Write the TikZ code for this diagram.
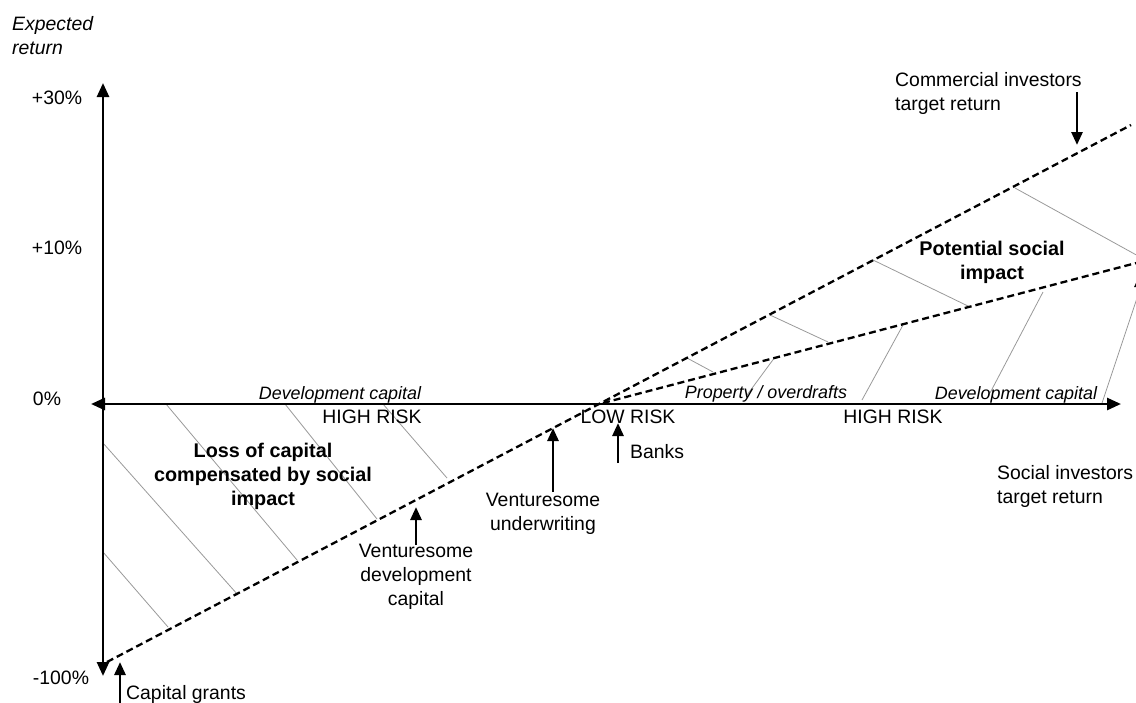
\documentclass[tikz,border=0pt]{standalone}
\usepackage{fontspec}
\setmainfont{Liberation Sans}
\usetikzlibrary{arrows.meta}
\begin{document}
\begin{tikzpicture}[x=1pt,y=-1pt,
    axis/.style={line width=2.7pt,{Triangle[length=14pt,width=12pt]}-{Triangle[length=14pt,width=12pt]}},
    target/.style={line width=2.3pt,dash pattern=on 7pt off 4pt},
    hatch/.style={draw=black!40,line width=0.8pt},
    pointer/.style={line width=2.7pt,-{Triangle[length=13pt,width=11pt]}},
    lbl/.style={inner sep=0pt,align=center,font=\fontsize{19.4}{24}\selectfont},
    sector/.style={inner sep=0pt,font=\fontsize{17.9}{22}\selectfont\itshape},
    effect/.style={inner sep=0pt,align=center,font=\fontsize{19.8}{24}\selectfont\bfseries}]
    \useasboundingbox (0,0) rectangle (1136,702);
    \clip (0,0) rectangle (1136,702);
    \coordinate (ytop) at (103,83);
    \coordinate (ybot) at (103,676);
    \coordinate (xleft) at (91,404);
    \coordinate (xright) at (1121,404);
    \coordinate (lowstart) at (107,662);
    \coordinate (comend) at (1131,125);
    \coordinate (cross) at (603,403);
    \coordinate (socend) at (1140,262);
    \foreach \xa/\ya/\xb/\yb in {103/552/168/627, 103/443/238/595, 166/404/297/560,
        285/404/377/519, 383/404/447/478, 687/358/713/372, 770/315/828/342,
        873/260/970/307, 1015/188/1140/257, 747/395/775/357, 862/400/903/325,
        990/393/1043/292, 1102/403/1140/289}
        \draw[hatch] (\xa,\ya) -- (\xb,\yb);
    \draw[axis] (ybot) -- (ytop);
    \draw[axis] (xleft) -- (xright);
    \draw[target] (lowstart) -- (comend);
    \draw[target] (cross) -- (socend);
    \node[lbl,anchor=west,align=left,font=\fontsize{19.4}{24}\selectfont\itshape] (yname) at (12,36) {Expected\\return};
    \node[lbl] (p30) at (57,98) {+30\%};
    \node[lbl] (p10) at (57,248) {+10\%};
    \node[lbl] (p0) at (47,399) {0\%};
    \node[lbl] (m100) at (61,678) {-100\%};
    \node[sector] (devl) at (340,395) {Development capital};
    \node[lbl] (highl) at (372,417) {HIGH RISK};
    \node[lbl] (low) at (628,417) {LOW RISK};
    \node[sector] (prop) at (766,394) {Property / overdrafts};
    \node[lbl] (highr) at (893,417) {HIGH RISK};
    \node[sector] (devr) at (1016,395) {Development capital};
    \node[effect] (loss) at (263,476) {Loss of capital\\compensated by social\\impact};
    \node[effect] (gain) at (992,262) {Potential social\\impact};
    \coordinate (grantsfoot) at (120,706);
    \coordinate (grantstip) at (120,662);
    \coordinate (vdcfoot) at (416,545);
    \coordinate (vdctip) at (416,507);
    \coordinate (vufoot) at (553,492);
    \coordinate (vutip) at (553,428);
    \coordinate (banksfoot) at (618,463);
    \coordinate (bankstip) at (618,423);
    \coordinate (commfoot) at (1077,92);
    \coordinate (commtip) at (1077,145);
    \coordinate (socfoot) at (1140,345);
    \coordinate (soctip) at (1140,274);
    \draw[pointer] (grantsfoot) -- (grantstip);
    \draw[pointer] (vdcfoot) -- (vdctip);
    \draw[pointer] (vufoot) -- (vutip);
    \draw[pointer] (banksfoot) -- (bankstip);
    \draw[pointer] (commfoot) -- (commtip);
    \draw[pointer] (socfoot) -- (soctip);
    \node[lbl,anchor=west] (grants) at (126,694) {Capital grants};
    \node[lbl] (vdc) at (416,577) {Venturesome\\development\\capital};
    \node[lbl] (vu) at (543,514) {Venturesome\\underwriting};
    \node[lbl,anchor=west] (banks) at (630,452) {Banks};
    \node[lbl,anchor=west,align=left] (comm) at (895,93) {Commercial investors\\target return};
    \node[lbl,anchor=west,align=left] (soc) at (997,486) {Social investors\\target return};
\end{tikzpicture}
\end{document}
